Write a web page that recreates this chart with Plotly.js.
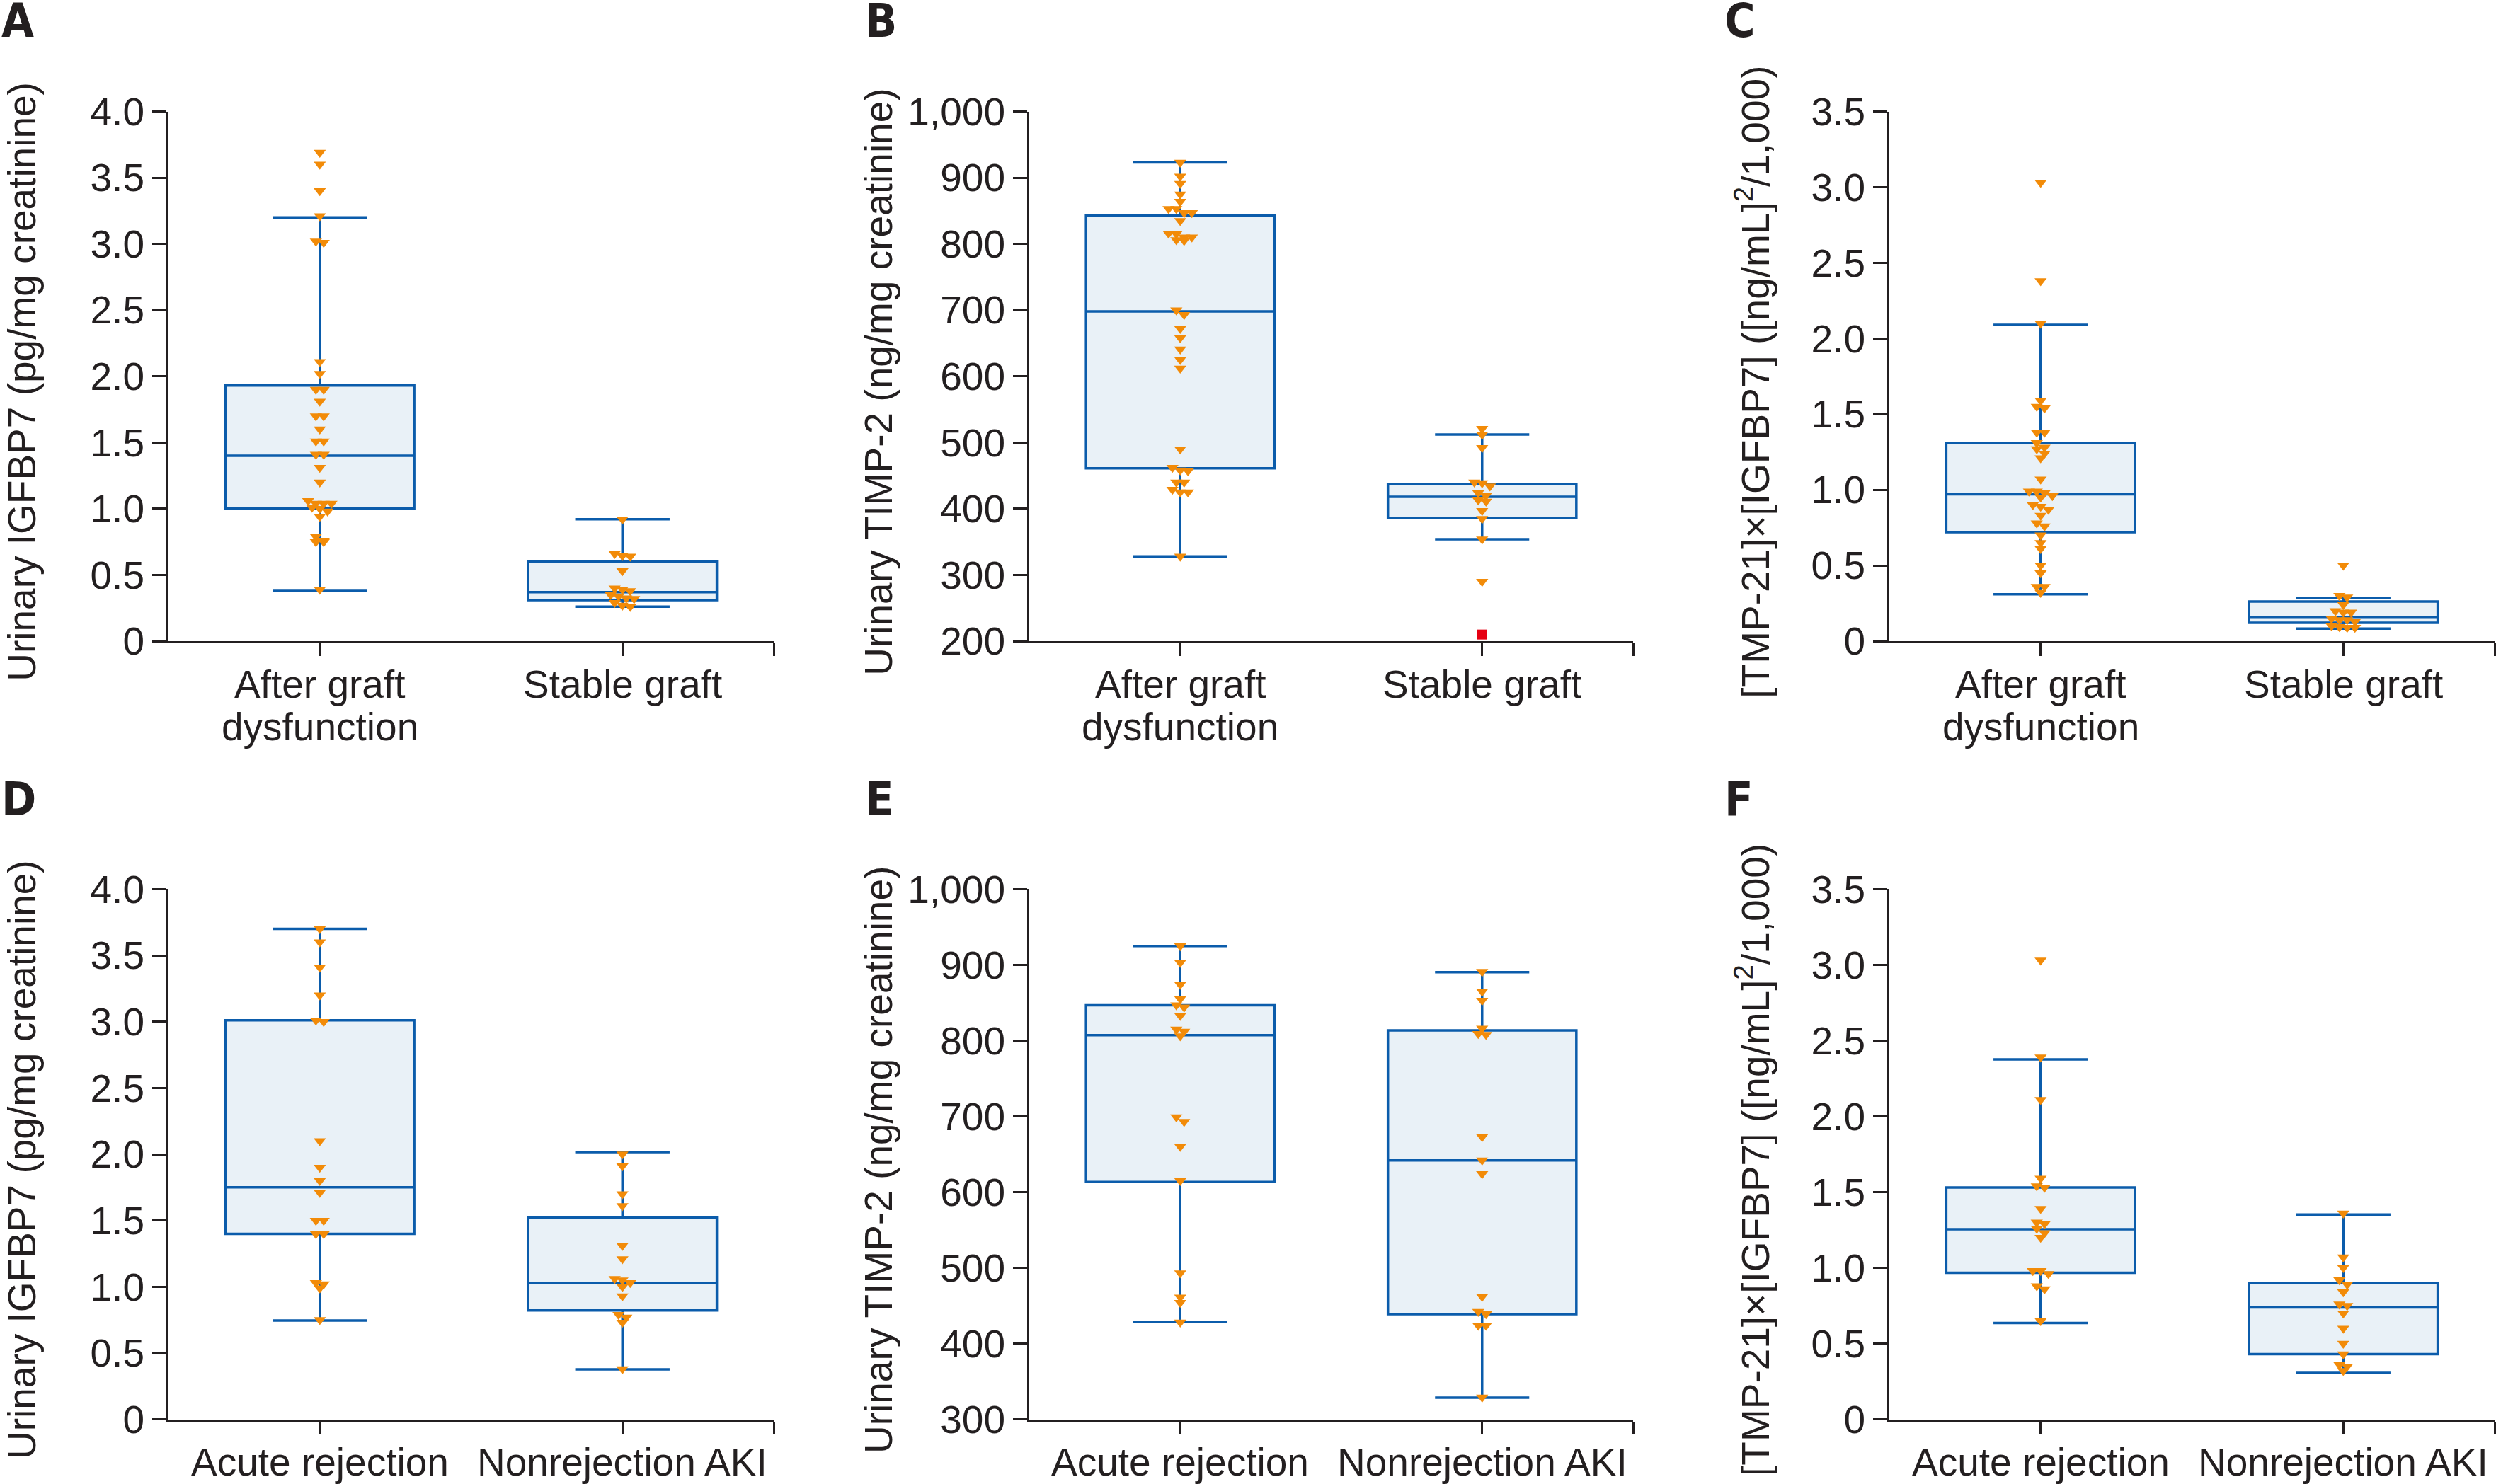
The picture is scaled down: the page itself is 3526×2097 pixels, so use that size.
<!DOCTYPE html>
<html>
<head>
<meta charset="utf-8">
<script src="https://cdn.plot.ly/plotly-3.0.1.min.js"></script>
<style>
  html, body { margin: 0; padding: 0; background: #ffffff; }
  #chart { width: 3526px; height: 2097px; }
</style>
</head>
<body>
<div id="chart"></div>
<script>
// ---------- categories & titles ----------
const catsTop = ['After graft<br>dysfunction', 'Stable graft'];
const catsBottom = ['Acute rejection', 'Nonrejection AKI'];
const titleIGFBP7 = 'Urinary IGFBP7 (pg/mg creatinine)';
const titleTIMP2 = 'Urinary TIMP-2 (ng/mg creatinine)';
const titleProduct = '[TMP-21]×[IGFBP7] ([ng/mL]<sup>2</sup>/1,000)';
const panelLetters = ['A', 'B', 'C', 'D', 'E', 'F'];

// ---------- tick values ----------
const ticksIGFBP7 = [0, 0.5, 1.0, 1.5, 2.0, 2.5, 3.0, 3.5, 4.0];
const ticksTIMP2Top = [200, 300, 400, 500, 600, 700, 800, 900, 1000];
const ticksTIMP2Bottom = [300, 400, 500, 600, 700, 800, 900, 1000];
const ticksProduct = [0, 0.5, 1.0, 1.5, 2.0, 2.5, 3.0, 3.5];

// ---------- individual values ----------
const aAfter = [3.69, 3.60, 3.40, 3.21, 3.02, 3.01, 2.11, 2.02, 1.90, 1.90, 1.81, 1.70, 1.70, 1.60, 1.51, 1.51, 1.41, 1.41, 1.31, 1.20, 1.06, 1.04, 1.04, 1.04, 1.01, 1.00, 0.98, 0.94, 0.79, 0.76, 0.75, 0.75, 0.39];
const aStable = [0.92, 0.66, 0.645, 0.64, 0.53, 0.40, 0.39, 0.38, 0.35, 0.34, 0.325, 0.32, 0.29, 0.27, 0.26];
const bAfter = [923, 902, 891, 875, 864, 853, 853, 847, 847, 835, 816, 815, 810, 810, 806, 805, 700, 693, 672, 658, 641, 625, 612, 490, 462, 458, 457, 440, 440, 429, 425, 425, 328];
const bStable = [521, 512, 492, 440, 439, 434, 424, 420, 413, 411, 397, 385, 354, 290];
const bStableOutlier = [210];
const cAfter = [3.03, 2.38, 2.10, 1.59, 1.55, 1.54, 1.38, 1.38, 1.31, 1.28, 1.27, 1.24, 1.21, 1.07, 0.99, 0.99, 0.98, 0.96, 0.95, 0.90, 0.89, 0.87, 0.83, 0.78, 0.76, 0.70, 0.65, 0.61, 0.50, 0.45, 0.36, 0.36, 0.32];
const cStable = [0.50, 0.30, 0.29, 0.24, 0.20, 0.19, 0.19, 0.15, 0.14, 0.14, 0.13, 0.10, 0.095, 0.09, 0.09];
const dAcute = [3.70, 3.60, 3.41, 3.20, 3.01, 3.00, 2.10, 1.90, 1.80, 1.71, 1.50, 1.50, 1.40, 1.40, 1.03, 1.02, 0.99, 0.75];
const dNonrej = [2.00, 1.91, 1.70, 1.61, 1.31, 1.21, 1.06, 1.05, 1.03, 1.00, 0.93, 0.79, 0.77, 0.73, 0.38];
const eAcute = [925, 903, 874, 855, 847, 844, 833, 815, 812, 806, 699, 693, 660, 615, 493, 461, 454, 428];
const eNonrej = [891, 865, 853, 816, 809, 808, 673, 642, 624, 462, 442, 439, 424, 424, 329];
const fAcute = [3.03, 2.39, 2.11, 1.59, 1.54, 1.53, 1.39, 1.30, 1.29, 1.26, 1.23, 1.20, 0.98, 0.98, 0.96, 0.88, 0.86, 0.65];
const fNonrej = [1.36, 1.07, 1.00, 0.92, 0.89, 0.84, 0.76, 0.75, 0.70, 0.60, 0.50, 0.43, 0.36, 0.35, 0.32];

// ---------- box statistics: [lower whisker, Q1, median, Q3, upper whisker] ----------
const statsA = [[0.38, 1.00, 1.40, 1.93, 3.20], [0.26, 0.31, 0.37, 0.60, 0.92]];
const statsB = [[328, 461, 698, 843, 923], [354, 386, 418, 437, 512]];
const statsC = [[0.31, 0.72, 0.97, 1.31, 2.09], [0.083, 0.122, 0.16, 0.262, 0.285]];
const statsD = [[0.745, 1.40, 1.75, 3.01, 3.70], [0.377, 0.821, 1.03, 1.524, 2.016]];
const statsE = [[428.5, 613.4, 807.3, 846.7, 924.9], [328.5, 438.8, 641.8, 813.4, 890.3]];
const statsF = [[0.636, 0.967, 1.255, 1.530, 2.376], [0.306, 0.43, 0.739, 0.90, 1.352]];

// ---------- styling / layout geometry ----------
const W = 3526, H = 2097;
const colPx = [[238, 1093], [1454, 2307], [2669, 3524]];
const rowPx = [[157.5, 906], [1256.4, 2005.6]];
const titleXPx = [31, 1241, 2476];
const letterXPx = [0, 1220, 2434];
const letterYPx = [29, 1129];
const catBaselineGap = 80;   // px from x-axis line to first label baseline
const catLineGap = 60;       // px between label lines
const BLUE = '#0b5cab';
const FILL = 'rgb(233,241,247)';
const ORANGE = 'rgb(242,139,8)';
const RED = '#e60012';
const INK = '#231f20';
const FONT = 'Liberation Sans, Arial, Helvetica, sans-serif';
const FONT_NARROW = 'Liberation Sans Narrow, Arial Narrow, DejaVu Sans Condensed, Liberation Sans, Arial, sans-serif';
const FS = 55;
const STEP_PX = 11, ROW_PX = 7;

const panels = [
  {vals: [aAfter, aStable], stats: statsA, range: [0, 4], ticks: ticksIGFBP7, cats: catsTop, title: titleIGFBP7, fmt: 'dec', extra: null},
  {vals: [bAfter, bStable], stats: statsB, range: [200, 1000], ticks: ticksTIMP2Top, cats: catsTop, title: titleTIMP2, fmt: 'int', extra: bStableOutlier},
  {vals: [cAfter, cStable], stats: statsC, range: [0, 3.5], ticks: ticksProduct, cats: catsTop, title: titleProduct, fmt: 'dec', extra: null},
  {vals: [dAcute, dNonrej], stats: statsD, range: [0, 4], ticks: ticksIGFBP7, cats: catsBottom, title: titleIGFBP7, fmt: 'dec', extra: null},
  {vals: [eAcute, eNonrej], stats: statsE, range: [300, 1000], ticks: ticksTIMP2Bottom, cats: catsBottom, title: titleTIMP2, fmt: 'int', extra: null},
  {vals: [fAcute, fNonrej], stats: statsF, range: [0, 3.5], ticks: ticksProduct, cats: catsBottom, title: titleProduct, fmt: 'dec', extra: null}
];

function fmtTick(v, fmt) {
  if (fmt === 'int') return v.toLocaleString('en-US');
  return v === 0 ? '0' : v.toFixed(1);
}

// simple beeswarm: points close in value share a row and are spread symmetrically
function swarmX(vals, cat, pxPerY, pxPerX) {
  const order = vals.map((v, i) => i).sort((a, b) => vals[b] - vals[a]);
  const xs = new Array(vals.length);
  let row = [];
  const flush = () => {
    const n = row.length;
    row.forEach((i, k) => { xs[i] = cat + (k - (n - 1) / 2) * STEP_PX / pxPerX; });
    row = [];
  };
  order.forEach(i => {
    if (row.length && (vals[row[0]] - vals[i]) * pxPerY > ROW_PX) flush();
    row.push(i);
  });
  flush();
  return xs;
}

const data = [];
const layout = {
  width: W, height: H,
  margin: {l: 0, r: 0, t: 0, b: 0},
  paper_bgcolor: '#ffffff', plot_bgcolor: 'rgba(0,0,0,0)',
  showlegend: false,
  font: {family: FONT, size: FS, color: INK},
  annotations: []
};

panels.forEach((p, k) => {
  const col = k % 3, row = Math.floor(k / 3);
  const sfx = k === 0 ? '' : String(k + 1);
  const xa = 'x' + sfx, ya = 'y' + sfx;
  const [l, r] = colPx[col];
  const [t, b] = rowPx[row];
  const xRange = [-0.5, 1.5];
  const pxPerX = (r - l) / (xRange[1] - xRange[0]);
  const pxPerY = (b - t) / (p.range[1] - p.range[0]);

  layout['xaxis' + sfx] = {
    domain: [l / W, r / W], range: xRange, anchor: ya,
    tickmode: 'array', tickvals: [0, 1, 1.5],
    showticklabels: false,
    ticks: 'outside', ticklen: 18, tickwidth: 3, tickcolor: INK,
    showline: true, linewidth: 3, linecolor: INK,
    showgrid: false, zeroline: false, fixedrange: true
  };
  layout['yaxis' + sfx] = {
    domain: [1 - b / H, 1 - t / H], range: p.range, anchor: xa,
    tickmode: 'array', tickvals: p.ticks, ticktext: p.ticks.map(v => fmtTick(v, p.fmt)),
    ticks: 'outside', ticklen: 20, tickwidth: 3, tickcolor: INK,
    showline: true, linewidth: 3, linecolor: INK,
    showgrid: false, zeroline: false,
    tickfont: {size: FS, color: INK, family: FONT}, fixedrange: true
  };

  data.push({
    type: 'box', xaxis: xa, yaxis: ya,
    x: [0, 1],
    lowerfence: p.stats.map(s => s[0]),
    q1: p.stats.map(s => s[1]),
    median: p.stats.map(s => s[2]),
    q3: p.stats.map(s => s[3]),
    upperfence: p.stats.map(s => s[4]),
    width: 0.624, whiskerwidth: 0.5,
    boxpoints: false,
    line: {color: BLUE, width: 3.5},
    fillcolor: FILL,
    hoverinfo: 'skip', showlegend: false
  });

  p.vals.forEach((vals, c) => {
    data.push({
      type: 'scatter', mode: 'markers', xaxis: xa, yaxis: ya,
      x: swarmX(vals, c, pxPerY, pxPerX), y: vals,
      marker: {symbol: 'triangle-down', size: 15, color: ORANGE, line: {width: 0}},
      cliponaxis: false, hoverinfo: 'skip', showlegend: false
    });
  });

  if (p.extra) {
    data.push({
      type: 'scatter', mode: 'markers', xaxis: xa, yaxis: ya,
      x: p.extra.map(() => 1), y: p.extra,
      marker: {symbol: 'square', size: 14, color: RED, line: {width: 0}},
      cliponaxis: false, hoverinfo: 'skip', showlegend: false
    });
  }

  // category labels under the x axis (one annotation per text line)
  p.cats.forEach((cat, c) => {
    cat.split('<br>').forEach((line, li) => {
      const baseline = b + catBaselineGap + li * catLineGap;
      layout.annotations.push({
        xref: xa, yref: 'paper',
        x: c, y: 1 - (baseline - 0.35 * FS) / H,
        text: line, showarrow: false,
        xanchor: 'center', yanchor: 'middle',
        font: {size: FS, color: INK, family: FONT}
      });
    });
  });

  // y-axis title (rotated)
  layout.annotations.push({
    xref: 'paper', yref: 'paper',
    x: titleXPx[col] / W, y: 1 - ((t + b) / 2 + 8) / H,
    text: p.title, textangle: -90, showarrow: false,
    xanchor: 'center', yanchor: 'middle',
    font: {size: FS, color: INK, family: FONT}
  });
  // panel letter
  layout.annotations.push({
    xref: 'paper', yref: 'paper',
    x: letterXPx[col] / W, y: 1 - letterYPx[row] / H,
    text: '<b>' + panelLetters[k] + '</b>', showarrow: false,
    xanchor: 'left', yanchor: 'middle',
    font: {size: 66, color: INK, family: FONT_NARROW}
  });
});

Plotly.newPlot('chart', data, layout, {displayModeBar: false, staticPlot: true});
</script>
</body>
</html>
